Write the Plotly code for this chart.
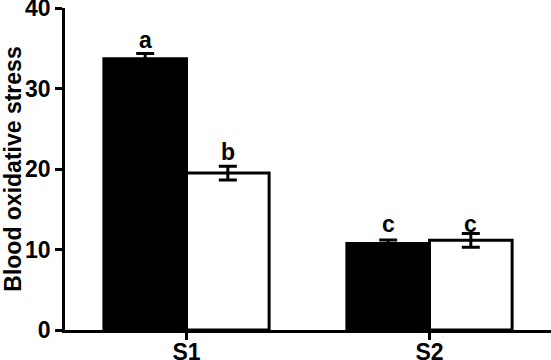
import plotly.graph_objects as go

categories = ["S1", "S2"]
group1_values = [33.7, 10.75]
group1_errors = [0.65, 0.45]
group2_values = [19.5, 11.15]
group2_errors = [0.85, 0.85]
group1_letters = ["a", "c"]
group2_letters = ["b", "c"]
letter_shift = [[-1, -1], [-6, -6]]  # per category, per group (px)
y_ticks = [0, 10, 20, 30, 40]

FONT = "Liberation Sans, Arial, Helvetica, sans-serif"

fig = go.Figure()
fig.add_trace(go.Bar(
    x=categories, y=group1_values, name="Group 1",
    marker=dict(color="black", line=dict(color="black", width=3)),
    error_y=dict(type="data", array=group1_errors, visible=True,
                 color="black", thickness=3, width=9),
    offsetgroup="1",
))
fig.add_trace(go.Bar(
    x=categories, y=group2_values, name="Group 2",
    marker=dict(color="white", line=dict(color="black", width=3)),
    error_y=dict(type="data", array=group2_errors, visible=True,
                 color="black", thickness=3, width=9),
    offsetgroup="2",
))

# significance letters
bar_width = (1 - 0.32) / 2
for i, cat in enumerate(categories):
    tops = [group1_values[i] + group1_errors[i], group2_values[i] + group2_errors[i]]
    same = group1_letters[i] == group2_letters[i]
    for j, (letter, top) in enumerate(zip([group1_letters[i], group2_letters[i]], tops)):
        y = max(tops) if same else top
        fig.add_annotation(
            x=i + (j - 0.5) * bar_width, y=y, xref="x", yref="y",
            text=letter, showarrow=False, yanchor="bottom",
            yshift=letter_shift[i][j],
            font=dict(family=FONT, size=23, color="black", weight="bold"),
        )

fig.update_layout(
    width=551, height=360,
    margin=dict(l=65, r=0, t=8, b=30),
    paper_bgcolor="white", plot_bgcolor="white",
    barmode="group", bargap=0.32, bargroupgap=0,
    showlegend=False,
    font=dict(family=FONT, color="black"),
)
fig.update_xaxes(
    type="category", range=[-0.5, 1.5], automargin=False,
    showline=True, linecolor="black", linewidth=2.5,
    ticks="outside", ticklen=7, tickwidth=2.5, tickcolor="black",
    tickfont=dict(family=FONT, size=23, color="black", weight="bold"),
    ticklabeloverflow="allow", ticklabelstandoff=-7,
    showgrid=False, zeroline=False,
)
fig.update_yaxes(
    range=[0, 40.02], tickvals=y_ticks, automargin=False,
    showline=True, linecolor="black", linewidth=2.5,
    ticks="outside", ticklen=7, tickwidth=2.5, tickcolor="black",
    tickfont=dict(family=FONT, size=23, color="black", weight="bold"),
    ticklabeloverflow="allow",
    showgrid=False, zeroline=False,
    title=dict(text="Blood oxidative stress", standoff=6,
               font=dict(family=FONT, size=23, color="black", weight="bold")),
)

fig.write_html(
    "out.html",
    config={"displayModeBar": False},
    post_script="document.body.style.margin='0';document.body.style.padding='0';",
)
